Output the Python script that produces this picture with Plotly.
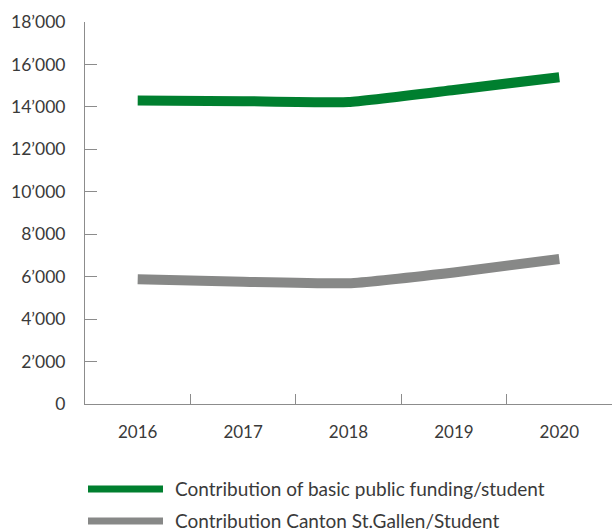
import plotly.graph_objects as go

years = ["2016", "2017", "2018", "2019", "2020"]
basic_public = [14300, 14270, 14230, 14800, 15400]
canton_sg = [5880, 5760, 5690, 6200, 6830]
series_names = ["Contribution of basic public funding/student",
                "Contribution Canton St.Gallen/Student"]
series_colors = ["#007F2F", "#878887"]
y_ticks = [0, 2000, 4000, 6000, 8000, 10000, 12000, 14000, 16000, 18000]
y_tick_labels = ["0", "2’000", "4’000", "6’000", "8’000", "10’000",
                 "12’000", "14’000", "16’000", "18’000"]

FONT = "Lato"
TXT = "#3a3a3a"
fig = go.Figure()
for vals, name, col in zip([basic_public, canton_sg], series_names, series_colors):
    fig.add_trace(go.Scatter(x=years, y=vals, mode="lines", name=name,
                             line=dict(color=col, width=10, shape="spline", smoothing=0.4),
                             showlegend=False))

fig.update_layout(
    width=612, height=529,
    margin=dict(l=85, r=0, t=22, b=125),
    paper_bgcolor="white", plot_bgcolor="white",
    font=dict(family=FONT, size=17.5, color=TXT),
    xaxis=dict(type="category", showgrid=False, showline=True, linecolor="#8c8c8c",
               linewidth=1, ticks="inside", ticklen=10, tickcolor="#8c8c8c",
               tickson="boundaries", ticklabelstandoff=13, range=[-0.5, 4.5],
               tickfont=dict(family=FONT, size=17, color=TXT)),
    yaxis=dict(range=[0, 18000], tickvals=y_ticks, ticktext=y_tick_labels,
               showgrid=False, showline=True, linecolor="#8c8c8c", linewidth=1,
               ticks="inside", ticklen=12, tickcolor="#8c8c8c", zeroline=False,
               ticklabelstandoff=15, tickfont=dict(family=FONT, size=17.5, color=TXT)),
)

leg_y = [-0.2225, -0.306]
for name, col, yy in zip(series_names, series_colors, leg_y):
    fig.add_shape(type="line", xref="paper", yref="paper", x0=0.0057, x1=0.148,
                  y0=yy, y1=yy, line=dict(color=col, width=7))
    fig.add_annotation(xref="paper", yref="paper", x=0.167, y=yy, text=name,
                       showarrow=False, xanchor="left", yanchor="middle",
                       font=dict(family=FONT, size=19, color=TXT))

fig.write_html("out.html")
